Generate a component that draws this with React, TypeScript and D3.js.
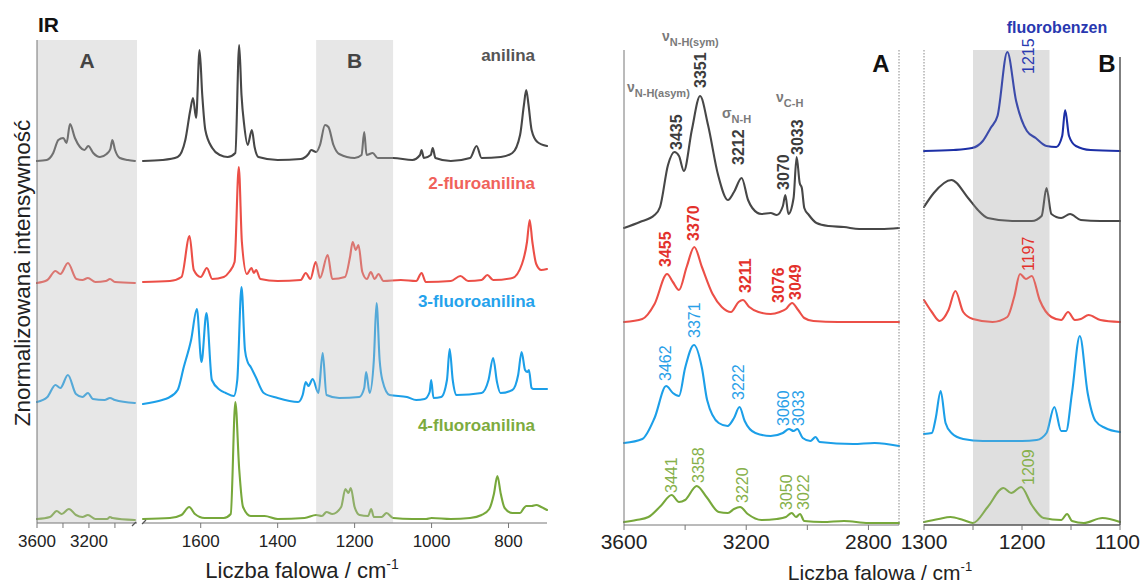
import React from 'react';
import * as d3 from 'd3';

type Pt = [number, number];
type Ann = [string, number, number]; // label, wavenumber of the label, level above the trace baseline

// ---- series ----
const seriesNames = ['anilina', '2-fluroanilina', '3-fluoroanilina', '4-fluoroanilina'];
const seriesColors = ['#474747', '#ec4f47', '#1c9fe8', '#77a83b'];
const nameColors = ['#555555', '#f0625b', '#25a2ec', '#7dab3e'];
const annColors = ['#3c3c3c', '#e3312b', '#2aa0e8', '#86b04a'];
const annBold = [true, true, false, false];
const leftOffsets = [3.62, 2.41, 1.23, 0.04];
const rightOffsets = [2.97, 2.03, 0.82, 0.03];
const fluorobenzenOffset = 3.74;

// ---- ticks ----
const ticksLeftA = [3600, 3400, 3200, 3000];
const labelsLeftA = [3600, 3200];
const ticksLeftMain = [1600, 1400, 1200, 1000, 800];
const ticksRightA = [3600, 3400, 3200, 3000, 2800];
const labelsRightA = [3600, 3200, 2800];
const ticksRightB = [1300, 1250, 1200, 1150, 1100];
const labelsRightB = [1300, 1200, 1100];
const shadeLeftB: Pt = [1300, 1100];
const shadeRightB: Pt = [1250, 1172];

// ---- IR, region A (3600-2830) ----
const anilinaIrA: Pt[] = [[3600, 0], [3525, 0.01], [3475, 0.08], [3436, 0.21], [3398, 0.23], [3372, 0.18], [3346, 0.37], [3308, 0.23], [3269, 0.14], [3235, 0.11], [3205, 0.15], [3167, 0.08], [3115, 0.04], [3064, 0.07], [3035, 0.12], [3020, 0.21], [2999, 0.11], [2962, 0.03], [2900, 0.01], [2846, 0]];
const fa2IrA: Pt[] = [[3600, -0.01], [3520, 0.02], [3458, 0.11], [3420, 0.08], [3362, 0.19], [3296, 0.03], [3250, 0.02], [3208, 0.04], [3150, 0.0], [3070, 0.01], [3038, 0.03], [3000, 0.0], [2846, -0.01]];
const fa3IrA: Pt[] = [[3600, -0.02], [3520, 0.03], [3458, 0.15], [3420, 0.12], [3362, 0.25], [3300, 0.06], [3250, 0.03], [3208, 0.07], [3170, 0.01], [3080, 0.0], [3038, 0.02], [3000, 0.0], [2846, -0.03]];
const fa4IrA: Pt[] = [[3600, 0], [3500, 0.02], [3448, 0.08], [3410, 0.05], [3354, 0.1], [3300, 0.04], [3250, 0.02], [3208, 0.04], [3150, 0.0], [3060, 0.0], [3038, 0.02], [3020, 0.01], [2846, -0.01]];

// ---- IR, fingerprint (1750-700) ----
const anilinaIrMain: Pt[] = [[1750, 0], [1700, 0.01], [1660, 0.04], [1640, 0.21], [1627, 0.51], [1620, 0.63], [1612, 0.43], [1603, 1.11], [1596, 0.66], [1588, 0.31], [1570, 0.13], [1550, 0.06], [1530, 0.04], [1510, 0.08], [1500, 1.16], [1494, 0.66], [1487, 0.36], [1478, 0.16], [1467, 0.31], [1460, 0.14], [1450, 0.04], [1400, 0.01], [1340, 0.02], [1320, 0.07], [1313, 0.11], [1300, 0.09], [1290, 0.16], [1277, 0.36], [1268, 0.34], [1255, 0.16], [1240, 0.07], [1200, 0.03], [1182, 0.06], [1175, 0.29], [1169, 0.06], [1153, 0.08], [1140, 0.03], [1100, 0.03], [1050, 0.01], [1030, 0.06], [1026, 0.11], [1020, 0.03], [1002, 0.06], [997, 0.13], [990, 0.03], [950, 0], [900, 0.03], [883, 0.15], [870, 0.03], [820, 0.04], [790, 0.08], [770, 0.26], [760, 0.56], [754, 0.71], [748, 0.56], [740, 0.31], [725, 0.19], [700, 0.15]];
const fa2IrMain: Pt[] = [[1750, 0], [1680, 0.01], [1650, 0.05], [1629, 0.46], [1618, 0.12], [1600, 0.05], [1584, 0.14], [1570, 0.03], [1540, 0.05], [1526, 0.1], [1512, 0.2], [1501, 1.15], [1493, 0.4], [1480, 0.08], [1468, 0.14], [1462, 0.09], [1456, 0.12], [1445, 0.03], [1400, 0.01], [1340, 0.02], [1327, 0.09], [1315, 0.03], [1301, 0.2], [1290, 0.04], [1270, 0.27], [1258, 0.03], [1225, 0.05], [1212, 0.25], [1205, 0.4], [1197, 0.32], [1190, 0.37], [1180, 0.1], [1168, 0.03], [1158, 0.1], [1148, 0.03], [1138, 0.08], [1125, 0.01], [1080, 0.02], [1040, 0.01], [1026, 0.09], [1015, 0.0], [950, 0.01], [925, 0.06], [905, 0.01], [870, 0.02], [855, 0.07], [840, 0.02], [790, 0.04], [765, 0.18], [752, 0.4], [745, 0.62], [738, 0.4], [728, 0.18], [715, 0.12], [700, 0.13]];
const fa3IrMain: Pt[] = [[1750, -0.04], [1700, 0.0], [1685, 0.02], [1660, 0.1], [1644, 0.33], [1625, 0.6], [1610, 0.91], [1598, 0.38], [1585, 0.87], [1571, 0.2], [1550, 0.1], [1535, 0.07], [1514, 0.04], [1505, 0.2], [1494, 1.13], [1485, 0.5], [1478, 0.38], [1470, 0.33], [1457, 0.23], [1436, 0.07], [1400, 0.02], [1347, -0.02], [1335, 0.05], [1327, 0.18], [1320, 0.14], [1309, 0.21], [1294, 0.07], [1283, 0.47], [1273, 0.05], [1240, 0.02], [1188, 0.03], [1175, 0.12], [1170, 0.28], [1161, 0.07], [1150, 0.4], [1143, 0.97], [1135, 0.4], [1128, 0.2], [1109, 0.05], [1064, 0.03], [1040, 0.0], [1018, 0.01], [1005, 0.08], [1001, 0.2], [995, 0.02], [975, 0.03], [960, 0.2], [953, 0.51], [945, 0.2], [935, 0.05], [870, 0.07], [852, 0.2], [840, 0.42], [830, 0.18], [821, 0.07], [790, 0.1], [775, 0.25], [766, 0.48], [757, 0.3], [751, 0.28], [747, 0.3], [740, 0.12], [735, 0.11], [700, 0.11]];
const fa4IrMain: Pt[] = [[1750, 0], [1680, 0.01], [1650, 0.04], [1630, 0.12], [1615, 0.05], [1590, 0.01], [1540, 0.01], [1522, 0.05], [1510, 1.17], [1500, 0.5], [1490, 0.12], [1470, 0.03], [1434, 0.03], [1400, 0.0], [1330, 0.01], [1300, 0.04], [1285, 0.03], [1273, 0.07], [1258, 0.05], [1235, 0.12], [1224, 0.3], [1216, 0.26], [1210, 0.31], [1200, 0.12], [1187, 0.04], [1165, 0.03], [1157, 0.1], [1150, 0.02], [1130, 0.02], [1117, 0.06], [1100, 0.01], [1050, 0.0], [1014, 0.0], [1000, 0.01], [950, 0.0], [900, 0.01], [870, 0.04], [850, 0.1], [838, 0.25], [829, 0.43], [820, 0.25], [810, 0.11], [790, 0.06], [770, 0.06], [760, 0.11], [754, 0.13], [740, 0.13], [728, 0.14], [715, 0.12], [700, 0.09]];

// ---- zoom A (3600-2700) ----
const anilinaZoomA: Pt[] = [[3600, 0], [3548, 0.06], [3500, 0.13], [3482, 0.21], [3456, 0.63], [3435, 0.76], [3420, 0.72], [3404, 0.57], [3378, 0.98], [3351, 1.32], [3325, 1.03], [3292, 0.53], [3260, 0.28], [3240, 0.36], [3215, 0.5], [3194, 0.28], [3180, 0.2], [3150, 0.14], [3120, 0.15], [3100, 0.13], [3080, 0.22], [3072, 0.33], [3062, 0.14], [3045, 0.3], [3035, 0.71], [3025, 0.45], [3018, 0.4], [3010, 0.2], [2995, 0.13], [2970, 0.05], [2930, 0.02], [2880, 0.01], [2830, -0.01], [2760, -0.01], [2700, 0.0]];
const fa2ZoomA: Pt[] = [[3600, 0], [3540, 0.03], [3500, 0.18], [3459, 0.48], [3440, 0.4], [3420, 0.32], [3395, 0.55], [3370, 0.75], [3345, 0.55], [3310, 0.28], [3280, 0.15], [3250, 0.1], [3225, 0.2], [3211, 0.22], [3190, 0.15], [3160, 0.1], [3120, 0.08], [3090, 0.1], [3070, 0.13], [3050, 0.19], [3030, 0.12], [3010, 0.04], [2980, 0.01], [2900, 0], [2700, 0]];
const fa3ZoomA: Pt[] = [[3600, 0], [3540, 0.04], [3500, 0.25], [3462, 0.57], [3440, 0.5], [3420, 0.47], [3400, 0.75], [3371, 0.98], [3345, 0.75], [3328, 0.43], [3290, 0.2], [3261, 0.17], [3240, 0.25], [3222, 0.36], [3205, 0.22], [3170, 0.1], [3120, 0.07], [3080, 0.1], [3060, 0.14], [3045, 0.12], [3033, 0.14], [3015, 0.05], [2990, 0.02], [2973, 0.06], [2960, 0.01], [2850, -0.01], [2780, 0.0], [2700, -0.03]];
const fa4ZoomA: Pt[] = [[3600, 0], [3560, 0.02], [3520, 0.05], [3480, 0.16], [3444, 0.27], [3420, 0.2], [3400, 0.22], [3362, 0.36], [3330, 0.25], [3290, 0.1], [3260, 0.09], [3240, 0.13], [3220, 0.15], [3195, 0.08], [3150, 0.02], [3100, 0.03], [3070, 0.05], [3051, 0.09], [3037, 0.05], [3024, 0.08], [3010, 0.01], [2950, 0.0], [2880, 0.01], [2800, -0.01], [2700, -0.01]];

// ---- zoom B (1300-1100) ----
const fluorobenzenZoomB: Pt[] = [[1300, 0], [1270, 0.01], [1251, 0.03], [1240, 0.1], [1232, 0.23], [1225, 0.35], [1215, 0.99], [1206, 0.5], [1195, 0.2], [1186, 0.13], [1175, 0.05], [1165, 0.04], [1159, 0.15], [1156, 0.41], [1152, 0.15], [1145, 0.05], [1130, 0.01], [1100, 0]];
const anilinaZoomB: Pt[] = [[1300, 0.21], [1290, 0.35], [1272, 0.48], [1255, 0.3], [1245, 0.18], [1235, 0.1], [1210, 0.07], [1190, 0.07], [1180, 0.12], [1175, 0.4], [1170, 0.14], [1160, 0.1], [1151, 0.14], [1140, 0.08], [1120, 0.07], [1100, 0.07]];
const fa2ZoomB: Pt[] = [[1300, 0.22], [1292, 0.1], [1284, 0.01], [1275, 0.12], [1268, 0.31], [1260, 0.1], [1250, 0.03], [1230, 0.0], [1215, 0.05], [1208, 0.25], [1202, 0.48], [1196, 0.43], [1190, 0.46], [1182, 0.22], [1170, 0.05], [1160, 0.02], [1153, 0.1], [1146, 0.02], [1140, 0.03], [1132, 0.07], [1120, 0.02], [1100, 0.0]];
const fa3ZoomB: Pt[] = [[1300, 0.09], [1292, 0.1], [1288, 0.25], [1283, 0.52], [1278, 0.2], [1272, 0.1], [1260, 0.04], [1240, 0.02], [1200, 0.02], [1185, 0.03], [1175, 0.1], [1167, 0.36], [1160, 0.12], [1155, 0.12], [1149, 0.5], [1141, 1.07], [1133, 0.5], [1125, 0.22], [1115, 0.15], [1100, 0.11]];
const fa4ZoomB: Pt[] = [[1300, 0.0], [1285, 0.03], [1273, 0.05], [1260, 0.02], [1250, -0.01], [1235, 0.15], [1219, 0.34], [1211, 0.29], [1201, 0.35], [1190, 0.17], [1178, 0.04], [1160, 0.02], [1154, 0.08], [1149, 0.01], [1137, -0.01], [1118, 0.04], [1100, 0.0]];

// ---- peak labels ----
const annAnilina: Ann[] = [['3435', 3430, 0.78], ['3351', 3351, 1.4], ['3212', 3225, 0.63], ['3070', 3080, 0.38], ['3033', 3033, 0.73]];
const ann2FA: Ann[] = [['3455', 3464, 0.55], ['3370', 3374, 0.81], ['3211', 3204, 0.29], ['3076', 3096, 0.19], ['3049', 3040, 0.22]];
const ann3FA: Ann[] = [['3462', 3466, 0.62], ['3371', 3371, 1.05], ['3222', 3227, 0.43], ['3060', 3080, 0.17], ['3033', 3031, 0.17]];
const ann4FA: Ann[] = [['3441', 3447, 0.29], ['3358', 3358, 0.39], ['3220', 3214, 0.19], ['3050', 3070, 0.12], ['3022', 3014, 0.12]];
const annFluorobenzenB: Ann[] = [['1215', 1194, 0.77]];
const ann2FAB: Ann[] = [['1197', 1194, 0.51]];
const ann4FAB: Ann[] = [['1209', 1194, 0.37]];

const irA = [anilinaIrA, fa2IrA, fa3IrA, fa4IrA];
const irMain = [anilinaIrMain, fa2IrMain, fa3IrMain, fa4IrMain];
const zoomA = [anilinaZoomA, fa2ZoomA, fa3ZoomA, fa4ZoomA];
const zoomB = [anilinaZoomB, fa2ZoomB, fa3ZoomB, fa4ZoomB];
const annA = [annAnilina, ann2FA, ann3FA, ann4FA];

const FONT = '"Liberation Sans", Arial, sans-serif';
const W = 1141;
const H = 586;

// scales
const xLA = d3.scaleLinear().domain([3600, 2830]).range([37, 137]);
const xLM = d3.scaleLinear().domain([1750, 700]).range([143, 547]);
const yL = d3.scaleLinear().domain([0, 4.83]).range([523, 40]);
const xRA = d3.scaleLinear().domain([3600, 2700]).range([624, 899]);
const xRB = d3.scaleLinear().domain([1300, 1100]).range([924, 1120]);
const yR = d3.scaleLinear().domain([0, 4.75]).range([525, 50]);

const linePath = (pts: Pt[], xs: d3.ScaleLinear<number, number>, ys: d3.ScaleLinear<number, number>, off: number) =>
  d3.line<Pt>()
    .x((d) => xs(d[0]))
    .y((d) => ys(off + d[1]))
    .curve(d3.curveMonotoneX)(pts) || '';

const Trace = ({ d, color }: { d: string; color: string }) => (
  <path d={d} fill="none" stroke={color} strokeWidth={2.1} strokeLinejoin="round" strokeLinecap="round" />
);

const PeakLabels = ({ anns, xs, ys, off, color, bold }: any) => (
  <g fill={color} fontSize={16} fontWeight={bold ? 700 : 400} fontFamily={FONT}>
    {anns.map(([t, wn, lv]: Ann) => (
      <text key={t + wn} transform={`translate(${xs(wn)},${ys(off + lv)}) rotate(-90)`} dy="0.36em">
        {t}
      </text>
    ))}
  </g>
);

// last label may sit at the right edge of the picture: keep it inside
const Ticks = ({ ticks, labels, xs, y, size }: any) => (
  <g>
    {ticks.map((t: number) => (
      <line key={t} x1={xs(t)} x2={xs(t)} y1={y} y2={y + 5} stroke="#777" strokeWidth={1} />
    ))}
    {labels.map((t: number) => {
      const x = xs(t);
      const tooFar = x + size * 1.15 > W;
      return (
        <text key={'l' + t} x={tooFar ? W - 1 : x} y={y + 24} textAnchor={tooFar ? 'end' : 'middle'} fontSize={size} fill="#222" fontFamily={FONT}>
          {t}
        </text>
      );
    })}
  </g>
);

const App = () => {
  const yb = yL(0);
  const top = yL(4.83);
  const ryb = yR(0);
  const rtop = yR(4.75);
  return (
    <svg width={W} height={H} style={{ position: 'absolute', left: 0, top: 0, background: '#fff' }} fontFamily={FONT}>
      {/* ---------- left: IR ---------- */}
      {irA.map((pts, i) => (
        <Trace key={'a' + i} d={linePath(pts, xLA, yL, leftOffsets[i])} color={seriesColors[i]} />
      ))}
      {irMain.map((pts, i) => (
        <Trace key={'m' + i} d={linePath(pts, xLM, yL, leftOffsets[i])} color={seriesColors[i]} />
      ))}
      <rect x={xLA(3600)} y={top} width={xLA(2830) - xLA(3600)} height={yb - top} fill="#bcbcbc" opacity={0.36} />
      <rect x={xLM(shadeLeftB[0])} y={top} width={xLM(shadeLeftB[1]) - xLM(shadeLeftB[0])} height={yb - top} fill="#bcbcbc" opacity={0.36} />

      <line x1={xLA(3600)} x2={xLA(3600)} y1={top} y2={yb} stroke="#777" />
      <line x1={xLA(3600)} x2={xLA(2830)} y1={yb} y2={yb} stroke="#777" />
      <line x1={xLM(1750)} x2={xLM(700)} y1={yb} y2={yb} stroke="#777" />
      <path d={`M${xLA(2830) - 5},${yb + 3}L${xLA(2830) - 1},${yb - 1}M${xLM(1750) - 1},${yb + 1}L${xLM(1750) + 3},${yb - 3}`} stroke="#555" strokeWidth={1.2} />
      <Ticks ticks={ticksLeftA} labels={labelsLeftA} xs={xLA} y={yb} size={17} />
      <Ticks ticks={ticksLeftMain} labels={ticksLeftMain} xs={xLM} y={yb} size={17} />

      <text x={38} y={32} fontSize={21} fontWeight={700} fill="#111">IR</text>
      <text x={(xLA(3600) + xLA(2830)) / 2} y={68} fontSize={21} fontWeight={700} fill="#444" textAnchor="middle">A</text>
      <text x={(xLM(shadeLeftB[0]) + xLM(shadeLeftB[1])) / 2} y={68} fontSize={21} fontWeight={700} fill="#444" textAnchor="middle">B</text>
      {seriesNames.map((n, i) => (
        <text key={n} x={535} y={yL(leftOffsets[i]) + [-100, -93, -93, -88][i]} fontSize={17} fontWeight={700} fill={nameColors[i]} textAnchor="end">
          {n}
        </text>
      ))}
      <text transform="translate(30,273) rotate(-90)" fontSize={22.5} fill="#222" textAnchor="middle">
        Znormalizowana intensywność
      </text>
      <text x={302} y={578} fontSize={22} fill="#222" textAnchor="middle">
        Liczba falowa / cm<tspan dy={-9} fontSize={14}>-1</tspan>
      </text>

      {/* ---------- right: zoomed regions ---------- */}
      <rect x={xRB(shadeRightB[0])} y={rtop} width={xRB(shadeRightB[1]) - xRB(shadeRightB[0])} height={ryb - rtop} fill="#e8e8e8" />
      {zoomA.map((pts, i) => (
        <Trace key={'ra' + i} d={linePath(pts, xRA, yR, rightOffsets[i])} color={seriesColors[i]} />
      ))}
      <Trace d={linePath(fluorobenzenZoomB, xRB, yR, fluorobenzenOffset)} color="#1c2fa6" />
      {zoomB.map((pts, i) => (
        <Trace key={'rb' + i} d={linePath(pts, xRB, yR, rightOffsets[i])} color={seriesColors[i]} />
      ))}
      <rect x={xRB(shadeRightB[0])} y={rtop} width={xRB(shadeRightB[1]) - xRB(shadeRightB[0])} height={ryb - rtop} fill="#bcbcbc" opacity={0.2} />

      <line x1={xRA(3600)} x2={xRA(3600)} y1={rtop} y2={ryb} stroke="#777" />
      <line x1={xRA(2700)} x2={xRA(2700)} y1={rtop} y2={ryb} stroke="#888" strokeDasharray="1.5 1.5" />
      <line x1={xRB(1300)} x2={xRB(1300)} y1={rtop} y2={ryb} stroke="#888" strokeDasharray="1.5 1.5" />
      <line x1={xRB(1100)} x2={xRB(1100)} y1={rtop + 7} y2={ryb} stroke="#555" strokeWidth={1.5} />
      <line x1={xRA(3600)} x2={xRA(2700)} y1={ryb} y2={ryb} stroke="#777" />
      <line x1={xRB(1300)} x2={xRB(1100)} y1={ryb} y2={ryb} stroke="#555" strokeWidth={1.5} />
      <Ticks ticks={ticksRightA} labels={labelsRightA} xs={xRA} y={ryb} size={21} />
      <Ticks ticks={ticksRightB} labels={labelsRightB} xs={xRB} y={ryb} size={21} />

      {annA.map((anns, i) => (
        <PeakLabels key={'pa' + i} anns={anns} xs={xRA} ys={yR} off={rightOffsets[i]} color={annColors[i]} bold={annBold[i]} />
      ))}
      <PeakLabels anns={annFluorobenzenB} xs={xRB} ys={yR} off={fluorobenzenOffset} color="#2a3ab0" bold={false} />
      <PeakLabels anns={ann2FAB} xs={xRB} ys={yR} off={rightOffsets[1]} color={annColors[1]} bold={false} />
      <PeakLabels anns={ann4FAB} xs={xRB} ys={yR} off={rightOffsets[3]} color={annColors[3]} bold={false} />

      <g fill="#7a7a7a" fontWeight={600}>
        <text x={662} y={41} fontSize={14}>ν<tspan dy={5} fontSize={11}>N-H(sym)</tspan></text>
        <text x={627} y={92} fontSize={14}>ν<tspan dy={5} fontSize={11}>N-H(asym)</tspan></text>
        <text x={722} y={118} fontSize={14}>σ<tspan dy={5} fontSize={11}>N-H</tspan></text>
        <text x={776} y={102} fontSize={14}>ν<tspan dy={5} fontSize={11}>C-H</tspan></text>
      </g>

      <text x={881} y={72} fontSize={24} fontWeight={700} fill="#111" textAnchor="middle">A</text>
      <text x={1107} y={72} fontSize={24} fontWeight={700} fill="#111" textAnchor="middle">B</text>
      <text x={1057} y={33} fontSize={16} fontWeight={700} fill="#2838b0" textAnchor="middle">fluorobenzen</text>
      <text x={880} y={580} fontSize={21} fill="#222" textAnchor="middle">
        Liczba falowa / cm<tspan dy={-9} fontSize={13}>-1</tspan>
      </text>
    </svg>
  );
};

export default App;
